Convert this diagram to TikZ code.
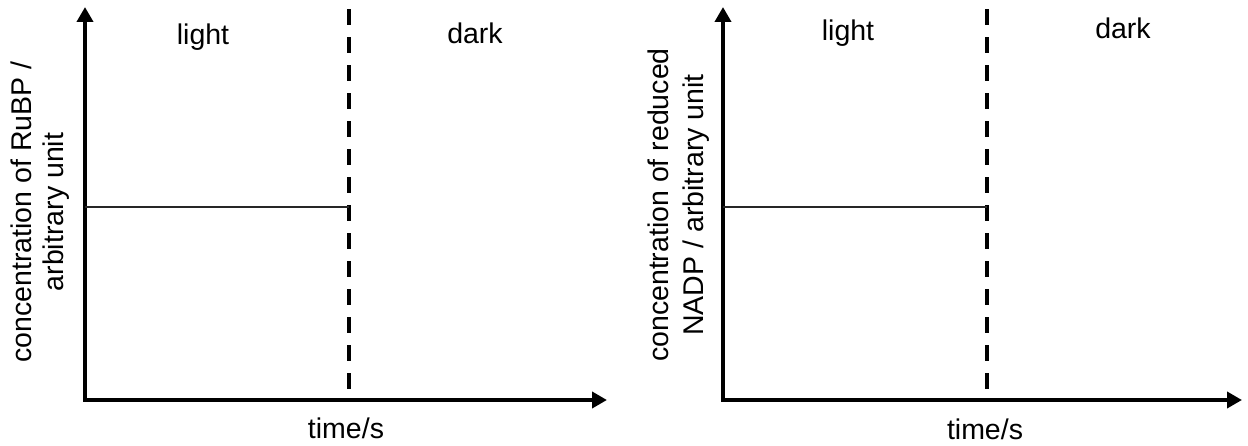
\documentclass[tikz,border=0pt]{standalone}
\usepackage{fontspec}
\setmainfont{Liberation Sans}
\usetikzlibrary{arrows.meta}
\begin{document}
\begin{tikzpicture}[x=1pt,y=-1pt,
  axis/.style={line width=4.5pt,line join=miter,
    {Triangle[length=15pt,width=16pt]}-{Triangle[length=15pt,width=16pt]}},
  divider/.style={line width=4.3pt,dash pattern=on 16pt off 12pt},
  level/.style={line width=1.5pt,black!85},
  lbl/.style={inner sep=0pt,anchor=base,font=\fontsize{28.5}{32}\selectfont}]
\useasboundingbox[fill=white] (0,0) rectangle (1248,446);
% left panel
\coordinate (LY) at (85,7);
\coordinate (LO) at (85,400);
\coordinate (LX) at (607,400);
\coordinate (LDt) at (349,9.3);
\coordinate (LDb) at (349,389);
\coordinate (LHa) at (85,207);
\coordinate (LHb) at (349,207);
\draw[axis] (LY) -- (LO) -- (LX);
\draw[divider] (LDt) -- (LDb);
\draw[level] (LHa) -- (LHb);
\node[lbl] (Llight) at (203,45) {light};
\node[lbl] (Ldark) at (475,44) {dark};
\node[lbl] (Ltime) at (346,438) {time/s};
\node[lbl,rotate=90] (Lyl1) at (31,212) {concentration of RuBP /};
\node[lbl,rotate=90] (Lyl2) at (63,212) {arbitrary unit};
% right panel
\coordinate (RY) at (723,7);
\coordinate (RO) at (723,400);
\coordinate (RX) at (1242,400);
\coordinate (RDt) at (987,9.3);
\coordinate (RDb) at (987,389);
\coordinate (RHa) at (723,207);
\coordinate (RHb) at (987,207);
\draw[axis] (RY) -- (RO) -- (RX);
\draw[divider] (RDt) -- (RDb);
\draw[level] (RHa) -- (RHb);
\node[lbl] (Rlight) at (848,41) {light};
\node[lbl] (Rdark) at (1123,39) {dark};
\node[lbl] (Rtime) at (985,439) {time/s};
\node[lbl,rotate=90] (Ryl1) at (668,205) {concentration of reduced};
\node[lbl,rotate=90] (Ryl2) at (703,205) {NADP / arbitrary unit};
\end{tikzpicture}
\end{document}
